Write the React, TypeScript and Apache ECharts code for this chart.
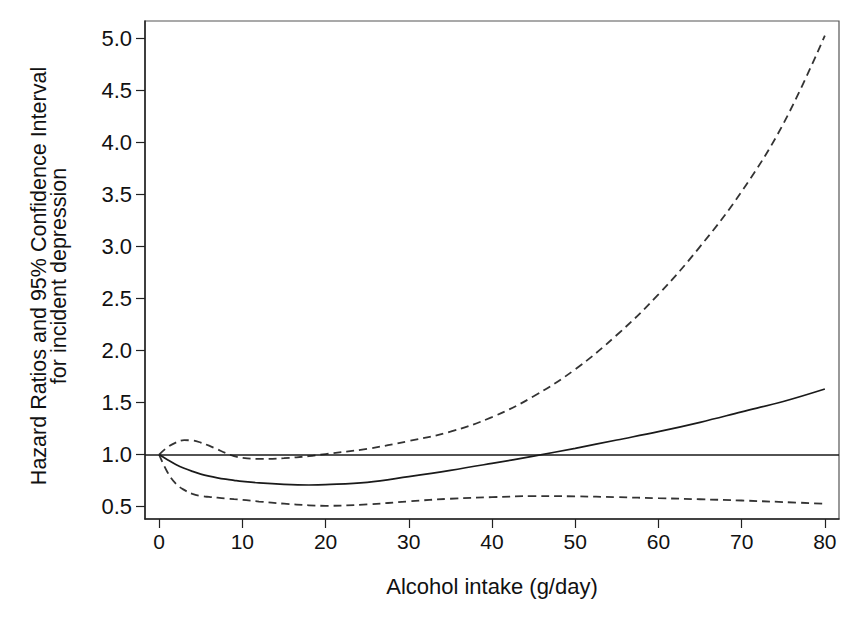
import React, { useEffect, useRef } from "react";
import * as echarts from "echarts";

const xValues = [0, 1, 2, 3, 4, 5, 6, 7, 8, 9, 10, 12, 15, 18, 20, 25, 30, 35, 40, 45, 50, 55, 60, 65, 70, 75, 80];
const hazardRatio = [1.0, 0.95, 0.905, 0.868, 0.838, 0.812, 0.792, 0.776, 0.763, 0.752, 0.742, 0.727, 0.713, 0.707, 0.71, 0.733, 0.788, 0.848, 0.915, 0.985, 1.06, 1.14, 1.22, 1.31, 1.41, 1.51, 1.63];
const lowerCI = [1.0, 0.83, 0.72, 0.66, 0.622, 0.602, 0.592, 0.585, 0.578, 0.571, 0.565, 0.548, 0.527, 0.512, 0.507, 0.52, 0.55, 0.575, 0.59, 0.6, 0.598, 0.59, 0.58, 0.57, 0.558, 0.543, 0.527];
const upperCI = [1.0, 1.07, 1.115, 1.138, 1.135, 1.115, 1.085, 1.05, 1.015, 0.985, 0.968, 0.958, 0.965, 0.985, 1.005, 1.055, 1.13, 1.22, 1.36, 1.56, 1.82, 2.15, 2.54, 3.0, 3.53, 4.18, 5.03];

const xTicks = [0, 10, 20, 30, 40, 50, 60, 70, 80];
const yTicks = [0.5, 1.0, 1.5, 2.0, 2.5, 3.0, 3.5, 4.0, 4.5, 5.0];

const FONT = "'Liberation Sans', Arial, Helvetica, sans-serif";

export default function App() {
  const ref = useRef<HTMLDivElement>(null);
  useEffect(() => {
    if (!ref.current) return;
    const chart = echarts.init(ref.current, null, { renderer: "svg" });
    const pair = (ys: number[]) => xValues.map((x, i) => [x, ys[i]]);
    chart.setOption({
      animation: false,
      backgroundColor: "#ffffff",
      textStyle: { fontFamily: FONT },
      grid: {
        left: 145,
        right: 24,
        top: 21,
        bottom: 109,
        show: true,
        borderColor: "#555",
        borderWidth: 1.2,
      },
      xAxis: {
        type: "value",
        min: -1.7,
        max: 81.7,
        name: "Alcohol intake (g/day)",
        nameLocation: "middle",
        nameGap: 56,
        nameTextStyle: { fontSize: 22, color: "#111", fontFamily: FONT },
        axisLine: { show: true, onZero: false, lineStyle: { color: "#222", width: 1.5 } },
        axisTick: { show: true, length: 9, customValues: xTicks, lineStyle: { color: "#222", width: 1.2 } },
        axisLabel: { customValues: xTicks, margin: 12, fontSize: 21, color: "#111", fontFamily: FONT },
        splitLine: { show: false },
      },
      yAxis: {
        type: "value",
        min: 0.38,
        max: 5.17,
        name: "Hazard Ratios and 95% Confidence Interval\nfor incident depression",
        nameLocation: "middle",
        nameRotate: 90,
        nameGap: 76,
        nameTextStyle: {
          fontSize: 21.5,
          lineHeight: 20,
          color: "#111",
          fontFamily: FONT,
          align: "center",
          padding: [0, 12, 0, 0],
        },
        axisLine: { show: true, onZero: false, lineStyle: { color: "#222", width: 1.5 } },
        axisTick: { show: true, length: 9, customValues: yTicks, lineStyle: { color: "#222", width: 1.2 } },
        axisLabel: {
          customValues: yTicks,
          margin: 13,
          fontSize: 22,
          color: "#111",
          fontFamily: FONT,
          formatter: (v: number) => v.toFixed(1),
        },
        splitLine: { show: false },
      },
      series: [
        {
          type: "line",
          name: "Hazard ratio",
          data: pair(hazardRatio),
          smooth: 0.4,
          showSymbol: false,
          lineStyle: { color: "#1a1a1a", width: 1.7 },
          markLine: {
            silent: true,
            symbol: ["none", "none"],
            label: { show: false },
            lineStyle: { color: "#1a1a1a", width: 1.5, type: "solid" },
            data: [{ yAxis: 1 }],
          },
        },
        {
          type: "line",
          name: "Lower 95% CI",
          data: pair(lowerCI),
          smooth: 0.4,
          showSymbol: false,
          lineStyle: { color: "#333", width: 1.8, type: [8, 5] },
        },
        {
          type: "line",
          name: "Upper 95% CI",
          data: pair(upperCI),
          smooth: 0.4,
          showSymbol: false,
          lineStyle: { color: "#333", width: 1.8, type: [8, 5] },
        },
      ],
    });
    return () => chart.dispose();
  }, []);
  return (
    <div
      ref={ref}
      style={{ position: "absolute", left: 0, top: 0, width: 863, height: 628, background: "#fff" }}
    />
  );
}
